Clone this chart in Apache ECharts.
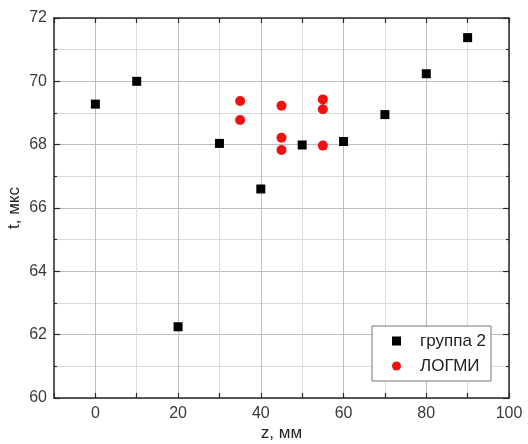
<!DOCTYPE html>
<html>
<head>
<meta charset="utf-8">
<script src="https://cdn.jsdelivr.net/npm/echarts@6/dist/echarts.min.js"></script>
<style>
  html, body { margin: 0; padding: 0; background: #fff; }
  #chart { width: 528px; height: 444px; }
</style>
</head>
<body>
<div id="chart"></div>
<script>
// group 2 (black squares)
var groupZ = [0, 10, 20, 30, 40, 50, 60, 70, 80, 90];
var groupT = [69.28, 70.0, 62.25, 68.04, 66.6, 67.99, 68.1, 68.95, 70.24, 71.38];
// ЛОГМИ (red circles)
var logmiZ = [35, 35, 45, 45, 45, 55, 55, 55];
var logmiT = [69.38, 68.78, 69.23, 68.22, 67.83, 69.43, 69.12, 67.97];

var xTicks = [0, 20, 40, 60, 80, 100];

var font = 'Liberation Sans, Arial, sans-serif';
var frame = '#2a2a2a';
var labelColor = '#3a3a3a';

var chart = echarts.init(document.getElementById('chart'));

function pairs(xs, ys) {
    return xs.map(function (x, i) { return [x, ys[i]]; });
}

var xBase = {
    type: 'value',
    min: -10,
    max: 100,
    interval: 10,
    axisLine: { show: true, onZero: false, lineStyle: { color: frame, width: 1.5 } },
    axisTick: { show: true, inside: true, length: 5, lineStyle: { color: frame, width: 1.2 } }
};
var yBase = {
    type: 'value',
    min: 60,
    max: 72,
    interval: 2,
    axisLine: { show: true, onZero: false, lineStyle: { color: frame, width: 1.5 } },
    axisTick: { show: true, inside: true, length: 6, lineStyle: { color: frame, width: 1.2 } },
    minorTick: { show: true, splitNumber: 2, length: 3, lineStyle: { color: frame, width: 1.2 } }
};

chart.setOption({
    animation: false,
    textStyle: { fontFamily: font },
    grid: { left: 54, right: 19, top: 18, bottom: 46, containLabel: false, outerBoundsMode: 'none' },
    xAxis: [
        Object.assign({}, xBase, {
            position: 'bottom',
            name: 'z, мм',
            nameLocation: 'middle',
            nameGap: 27,
            nameMoveOverlap: false,
            nameTextStyle: { fontSize: 17, color: '#222', fontFamily: font },
            axisLabel: {
                margin: 8,
                fontSize: 16,
                color: labelColor,
                fontFamily: font,
                formatter: function (v) { return xTicks.indexOf(v) >= 0 ? String(v) : ''; }
            },
            splitLine: { show: true, lineStyle: { color: ['#dcdcdc', '#bdbdbd'], width: 1 } }
        }),
        Object.assign({}, xBase, {
            position: 'top',
            axisLabel: { show: false },
            splitLine: { show: false }
        })
    ],
    yAxis: [
        Object.assign({}, yBase, {
            position: 'left',
            name: 't, мкс',
            nameLocation: 'middle',
            nameGap: 31,
            nameMoveOverlap: false,
            nameTextStyle: { fontSize: 17, color: '#222', fontFamily: font },
            axisLabel: { margin: 7, fontSize: 16, color: labelColor, fontFamily: font },
            splitLine: { show: true, lineStyle: { color: '#bdbdbd', width: 1 } },
            minorSplitLine: { show: true, lineStyle: { color: '#dcdcdc', width: 1 } }
        }),
        Object.assign({}, yBase, {
            position: 'right',
            axisLabel: { show: false },
            splitLine: { show: false }
        })
    ],
    legend: {
        orient: 'vertical',
        left: 372,
        top: 326,
        padding: [6, 5, 6, 20],
        itemGap: 7,
        itemWidth: 9,
        itemHeight: 9,
        borderColor: '#777',
        borderWidth: 1,
        backgroundColor: '#fff',
        textStyle: { fontSize: 17, color: '#222', fontFamily: font, lineHeight: 18, padding: [0, 0, 0, 14] },
        data: [
            { name: 'группа 2', icon: 'rect' },
            { name: 'ЛОГМИ', icon: 'circle' }
        ]
    },
    series: [
        {
            name: 'группа 2',
            type: 'scatter',
            symbol: 'rect',
            symbolSize: 9,
            itemStyle: { color: '#000', opacity: 1 },
            data: pairs(groupZ, groupT)
        },
        {
            name: 'ЛОГМИ',
            type: 'scatter',
            symbol: 'circle',
            symbolSize: 10,
            itemStyle: { color: '#f01010', opacity: 1 },
            data: pairs(logmiZ, logmiT)
        }
    ]
});
</script>
</body>
</html>
